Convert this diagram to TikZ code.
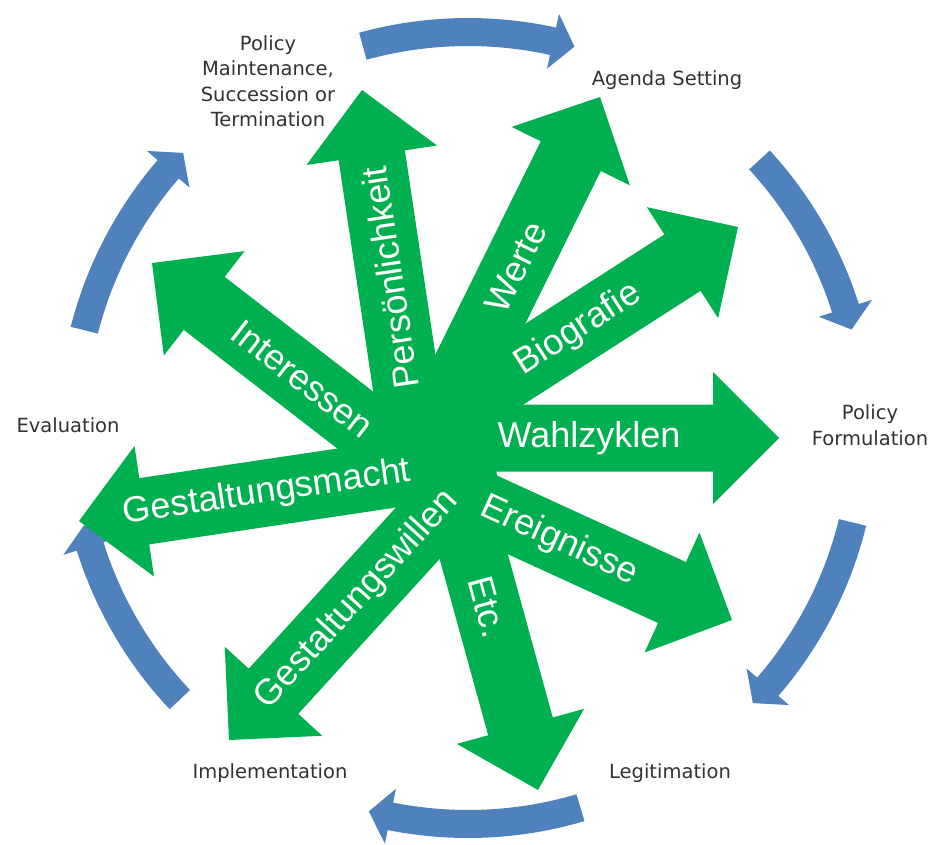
\documentclass[tikz,border=0pt]{standalone}
\usepackage{fontspec}
\newfontfamily\arfont{Liberation Sans}
\newfontfamily\labfont{DejaVu Sans}
\definecolor{greenc}{RGB}{0,176,80}
\definecolor{bluec}{RGB}{79,129,189}
\definecolor{textc}{RGB}{50,50,50}
\begin{document}
\begin{tikzpicture}[x=1pt,y=1pt,
  glabel/.style={text=white, font=\arfont\fontsize{36}{40}\selectfont, inner sep=0pt},
  clabel/.style={text=textc, font=\labfont\fontsize{19.5}{25.5}\selectfont, align=center, inner sep=0pt}]
\fill[white] (0,0) rectangle (932,-845);
\useasboundingbox (0,0) rectangle (932,-845);
% blue cycle arcs
\begin{scope}[shift={(468,-428)}]
\foreach \c/\so/\eo in {90/15.4/15.6, 30/12.6/15.6, -30/16.2/14, -90/16.5/14.5, -150/13.3/15.8, 150/15.7/14}{
  \pgfmathsetmacro\s{\c+\so}\pgfmathsetmacro\e{\c-\eo}\pgfmathsetmacro\h{\e+3.2}
  \fill[bluec] (\s:410pt) arc[start angle=\s, end angle=\h, radius=410pt] -- (\h:424pt) -- (\e:396pt)
     -- (\h:368pt) -- (\h:382pt) arc[start angle=\h, end angle=\s, radius=382pt] -- cycle;
}
\end{scope}
% cycle labels
\node[clabel] (pm) at (268,-81) {Policy\\Maintenance,\\Succession or\\Termination};
\node[clabel] (as) at (667,-80) {Agenda Setting};
\node[clabel] (pf) at (870,-425) {Policy\\Formulation};
\node[clabel] (lg) at (670,-773) {Legitimation};
\node[clabel] (im) at (270,-773) {Implementation};
\node[clabel] (ev) at (68,-425) {Evaluation};
% green centre
\fill[greenc] (437.4,-367.1) -- (520.5,-333.5) -- (513,-410) -- (496.5,-470.9) -- (502.5,-540.5)
  -- (445.5,-545) -- (397.5,-503) -- (357,-447.5) -- (379.5,-389) -- cycle;
% green arrows
\foreach \x/\y/\a/\l in {362/90/98.5/374, 600/97/63.7/387, 738/227/32.7/365, 779/438/0/329,
   732/620/-24.6/325, 538/790/-74.6/346, 229/740/227.6/360, 79/521/188.5/377, 152/263/142.3/353}{
  \begin{scope}[shift={(\x,-\y)}, rotate=\a]
    \fill[greenc] (-\l,-33.5) -- (-66,-33.5) -- (-66,-66) -- (0,0) -- (-66,66) -- (-66,33.5) -- (-\l,33.5) -- cycle;
  \end{scope}
}
% green arrow labels
\foreach \n/\x/\y/\a/\r/\t in {pers/362/90/98.5/98.5/Persönlichkeit, werte/600/97/63.7/63.7/Werte,
   bio/738/227/32.7/32.7/Biografie, wahl/779/438/0/0/Wahlzyklen, ereig/732/620/-24.6/-24.6/Ereignisse,
   etc/538/790/-74.6/-74.6/Etc., gwil/229/740/227.6/47.6/Gestaltungswillen,
   gmacht/79/521/188.5/8.5/Gestaltungsmacht, inter/152/263/142.3/-37.7/Interessen}{
  \begin{scope}[shift={(\x,-\y)}, rotate=\a]
    \node[glabel, rotate=\r] (\n) at (-190,0) {\t};
  \end{scope}
}
\end{tikzpicture}
\end{document}
